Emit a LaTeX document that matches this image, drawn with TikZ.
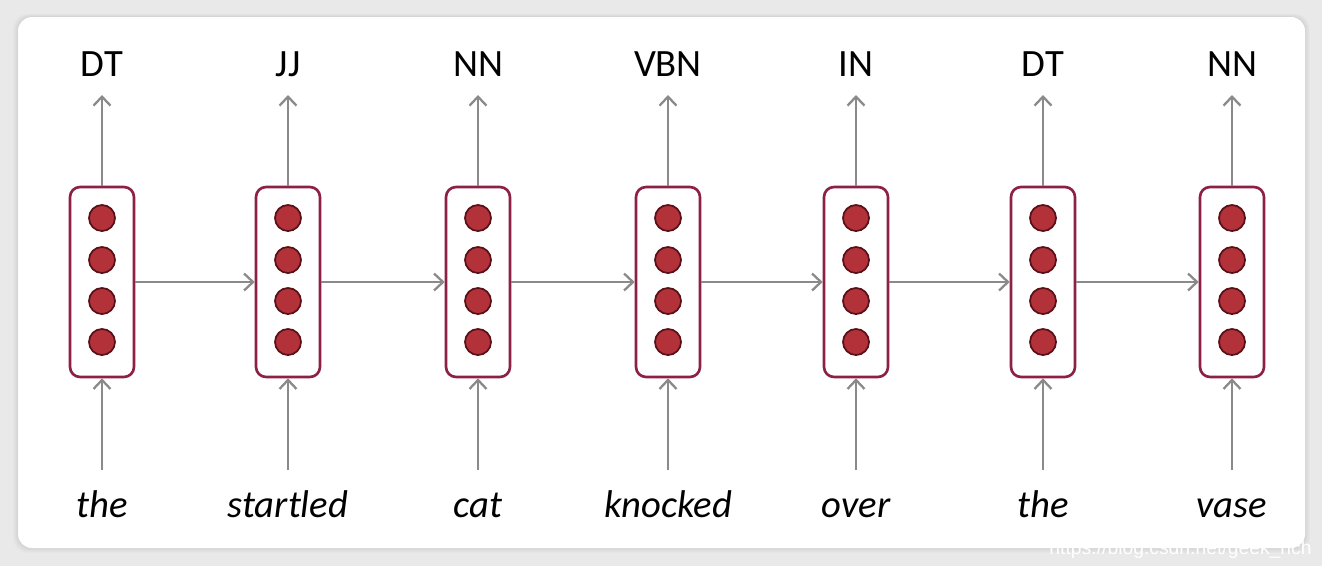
\documentclass[tikz,border=0pt]{standalone}
\usepackage{fontspec}
\setmainfont{Carlito}
\newfontfamily\wmfont{Liberation Sans}
\usetikzlibrary{arrows.meta}
\definecolor{bgray}{HTML}{E9E9E9}
\definecolor{boxc}{HTML}{8C2046}
\definecolor{dotf}{HTML}{B3323A}
\definecolor{dotd}{HTML}{5A1018}
\definecolor{arrc}{HTML}{8A8A8A}
\tikzset{
  px/.style={x=0.02cm,y=-0.02cm},
  cell/.style={draw=boxc,line width=1.5pt,rounded corners=0.2cm,fill=white,minimum width=1.28cm,minimum height=3.8cm,inner sep=0},
  dot/.style={circle,draw=dotd,line width=1pt,fill=dotf,minimum size=0.52cm,inner sep=0},
  arr/.style={draw=arrc,line width=1.3pt,-{Straight Barb[length=0.18cm,width=0.34cm,line width=1.3pt]}},
  tag/.style={anchor=south,inner xsep=0,inner ysep=0.36cm,text depth=0pt,font=\fontsize{22}{26}\selectfont},
  word/.style={anchor=north,inner xsep=0,inner ysep=0.4cm,text height=0.54cm,text depth=0pt,font=\fontsize{22}{26}\selectfont\itshape},
}
\begin{document}
\begin{tikzpicture}[px]
\useasboundingbox (0,0) rectangle (1322,566);
\fill[bgray] (0,0) rectangle (1322,566);
\foreach \s/\c in {8/E5E5E5,6/E0E0E0,4/DBDBDB,2/D5D5D5}{
  \definecolor{tmp}{HTML}{\c}
  \fill[tmp,rounded corners=0.3cm] (18-\s*0.6,17-\s*0.4) rectangle (1305+\s*0.6,548+\s*0.6);
}
\fill[white,rounded corners=0.28cm] (18,17) rectangle (1305,548);
\foreach \i/\x/\t/\w in {1/102/DT/the,2/288/JJ/startled,3/478/NN/cat,4/668/VBN/knocked,5/856/IN/over,6/1043/DT/the,7/1232/NN/vase}{
  \node[cell] (b\i) at (\x,282) {};
  \foreach \j/\y in {1/218,2/260,3/301,4/342}{
    \node[dot] (c\i\j) at (\x,\y) {};
  }
  \node[tag] (t\i) at (\x,95) {\t};
  \node[word] (w\i) at (\x,470) {\w};
  \draw[arr] (b\i.north) -- (t\i.south);
  \draw[arr] (w\i.north) -- (b\i.south);
}
\foreach \i/\j in {1/2,2/3,3/4,4/5,5/6,6/7}{
  \draw[arr] (b\i.east) -- (b\j.west);
}
\node[anchor=east,inner sep=0,text=white,font=\wmfont\fontsize{11}{13}\selectfont] (wm) at (1312,549) {https://blog.csdn.net/geek\_hch};
\end{tikzpicture}
\end{document}
